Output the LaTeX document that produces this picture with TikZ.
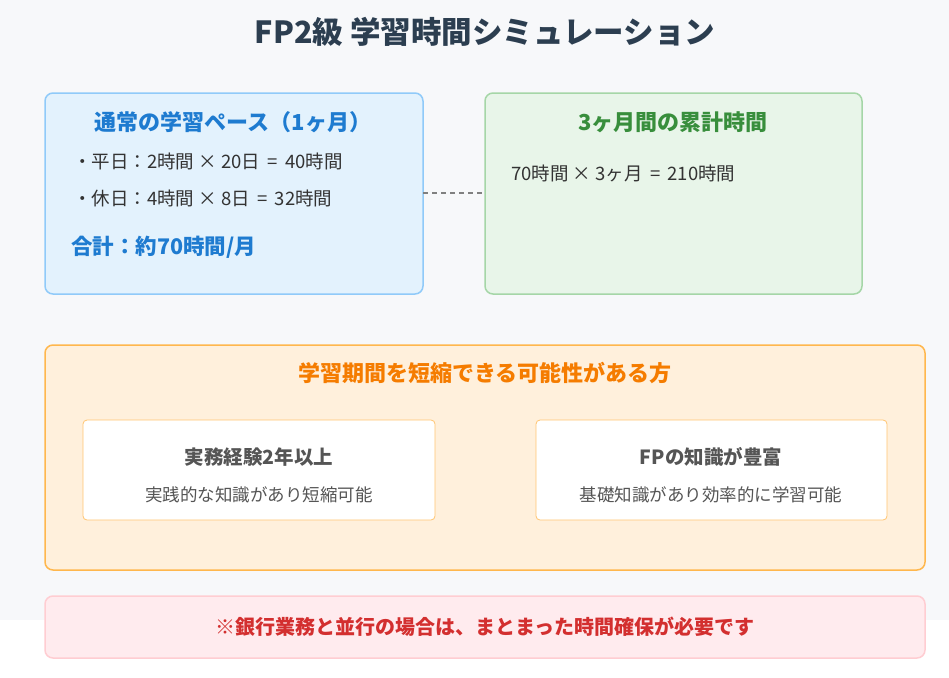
\documentclass[tikz,border=0pt]{standalone}
\usepackage{fontspec}
\setmainfont{Noto Sans CJK JP}
\begin{document}
\begin{tikzpicture}[x=1pt,y=-1pt,
  box/.style={rounded corners=8pt,line width=1.5pt},
  inner/.style={rounded corners=4pt,line width=0.8pt,draw=orB!80,fill=white},
  every node/.style={inner sep=0pt}]
\definecolor{bg}{HTML}{F7F8FA}
\definecolor{dark}{HTML}{2C3E50}
\definecolor{blF}{HTML}{E3F2FD}\definecolor{blB}{HTML}{90CAF9}\definecolor{blT}{HTML}{1E7BD0}
\definecolor{grF}{HTML}{E8F5E9}\definecolor{grB}{HTML}{A5D6A7}\definecolor{grT}{HTML}{388E3C}
\definecolor{orF}{HTML}{FFF0DC}\definecolor{orB}{HTML}{FFB74D}\definecolor{orT}{HTML}{F57C00}
\definecolor{rdF}{HTML}{FFEBEE}\definecolor{rdB}{HTML}{FFCDD2}\definecolor{rdT}{HTML}{D32F2F}
\definecolor{txt}{HTML}{333333}\definecolor{gy}{HTML}{555555}
\useasboundingbox (0,0) rectangle (949,677);
\fill[white] (0,0) rectangle (949,677);
\fill[bg] (0,0) rectangle (949,620);
\node[text=dark,font=\bfseries\fontsize{30.5}{36}\selectfont] (title) at (485,32) {FP2級 学習時間シミュレーション};
% box1
\draw[box,draw=blB,fill=blF] (45,93) rectangle (423,294);
\coordinate (b1r) at (423,193);
\node[text=blT,font=\bfseries\fontsize{22}{26}\selectfont] (t1) at (233,122) {通常の学習ペース（1ヶ月）};
\node[text=txt,font=\fontsize{18.5}{22}\selectfont,anchor=west] (l1) at (73,161) {・平日：2時間 × 20日 \,=\, 40時間};
\node[text=txt,font=\fontsize{18.5}{22}\selectfont,anchor=west] (l2) at (73,198) {・休日：4時間 × 8日 \,=\, 32時間};
\node[text=blT,font=\bfseries\fontsize{21.5}{26}\selectfont,anchor=west] (sum) at (71,247) {合計：約70時間/月};
% box2
\draw[box,draw=grB,fill=grF] (485,93) rectangle (862,294);
\coordinate (b2l) at (485,193);
\node[text=grT,font=\bfseries\fontsize{22}{26}\selectfont] (t2) at (673,122) {3ヶ月間の累計時間};
\node[text=txt,font=\fontsize{18.5}{22}\selectfont,anchor=west] (l3) at (511,173) {70時間 × 3ヶ月 \,=\, 210時間};
\draw[gray,line width=1.5pt,dash pattern=on 5pt off 4pt] (b1r) -- (b2l);
% box3
\draw[box,draw=orB,fill=orF] (45,345) rectangle (925,570);
\node[text=orT,font=\bfseries\fontsize{22}{26}\selectfont] (t3) at (485,373) {学習期間を短縮できる可能性がある方};
\draw[inner] (83,420) rectangle (435,520);
\node[text=gy,font=\bfseries\fontsize{19.5}{23}\selectfont] (i1) at (259,457) {実務経験2年以上};
\node[text=gy,font=\fontsize{17.5}{21}\selectfont] (i1s) at (259,495) {実践的な知識があり短縮可能};
\draw[inner] (536,420) rectangle (887,520);
\node[text=gy,font=\bfseries\fontsize{19.5}{23}\selectfont] (i2) at (711,457) {FPの知識が豊富};
\node[text=gy,font=\fontsize{17.5}{21}\selectfont] (i2s) at (711,495) {基礎知識があり効率的に学習可能};
% bottom
\draw[box,draw=rdB,fill=rdF] (45,596) rectangle (925,658);
\node[text=rdT,font=\bfseries\fontsize{20}{24}\selectfont] (note) at (485,627) {※銀行業務と並行の場合は、まとまった時間確保が必要です};
\end{tikzpicture}
\end{document}
